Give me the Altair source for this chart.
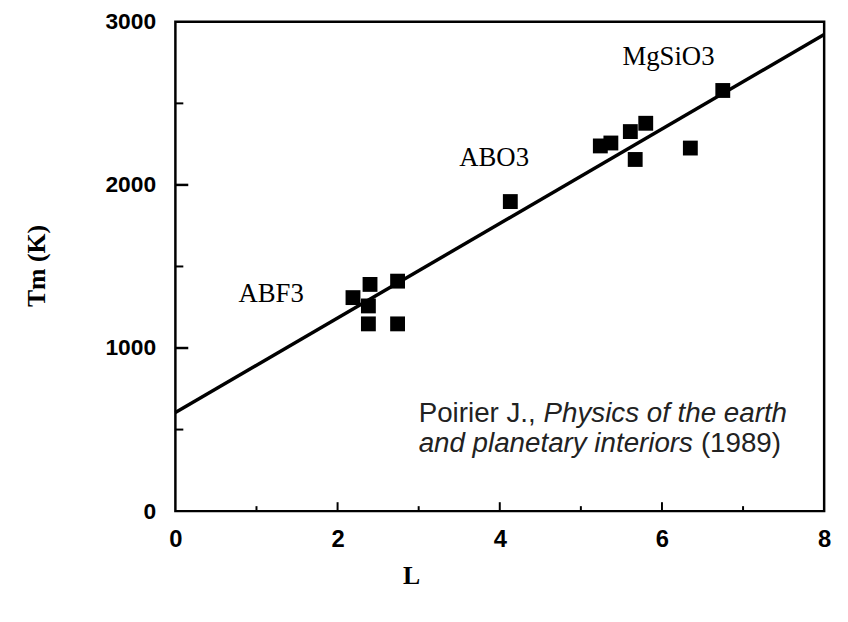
import altair as alt
import pandas as pd

# data points (L, Tm)
L_vals = [2.19, 2.40, 2.38, 2.38, 2.74, 2.74, 4.13, 5.24, 5.37, 5.61, 5.80, 5.67, 6.35, 6.75]
T_vals = [1309, 1390, 1258, 1148, 1410, 1148, 1898, 2239, 2257, 2327, 2378, 2156, 2226, 2579]

# fitted line endpoints
fit_L = [0, 8]
fit_T = [605, 2922]

# group labels
group_names = ["ABF3", "ABO3", "MgSiO3"]
group_L = [1.18, 3.93, 6.08]
group_T = [1331, 2166, 2783]

x_major = [2, 4, 6]
x_minor = [1, 3, 5, 7]
y_major = [1000, 2000]
y_minor = [500, 1500, 2500]

W, H = 655, 494

pts = pd.DataFrame({"L": L_vals, "T": T_vals})
fit = pd.DataFrame({"L": fit_L, "T": fit_T})
grp = pd.DataFrame({"name": group_names, "L": group_L, "T": group_T})

xs = alt.Scale(domain=[0, 8], nice=False, zero=False)
ys = alt.Scale(domain=[0, 3000], nice=False, zero=False)

x_axis = alt.Axis(values=[0, 2, 4, 6, 8], format="d", grid=False, ticks=False, tickSize=0, domain=False,
                  labelFont="Liberation Sans", labelFontWeight="bold", labelFontSize=24,
                  labelColor="black", labelPadding=17, labelFlush=False,
                  title="L", titleFont="Liberation Serif", titleFontWeight="bold",
                  titleFontSize=26, titleColor="black", titleX=238, titleY=65,
                  titleAlign="center", titleBaseline="middle")
y_axis = alt.Axis(values=[0, 1000, 2000, 3000], format="d", grid=False, ticks=False, tickSize=0, domain=False,
                  labelFont="Liberation Sans", labelFontWeight="bold", labelFontSize=23,
                  labelColor="black", labelPadding=20, labelFlush=False,
                  title="Tm (K)", titleFont="Liberation Serif", titleFontWeight="bold",
                  titleFontSize=26, titleColor="black", titleX=-140, titleY=246,
                  titleAlign="center", titleBaseline="middle", titleAngle=-90)

base_x = alt.X("L:Q", scale=xs, axis=x_axis)
base_y = alt.Y("T:Q", scale=ys, axis=y_axis)

line = alt.Chart(fit).mark_line(color="black", strokeWidth=3.5).encode(x=base_x, y=base_y)
squares = alt.Chart(pts).mark_square(size=225, color="black", opacity=1, filled=True).encode(
    x=alt.X("L:Q", scale=xs), y=alt.Y("T:Q", scale=ys))
labels = alt.Chart(grp).mark_text(font="Liberation Serif", fontSize=27, color="black",
                                  align="center", baseline="middle").encode(
    x=alt.X("L:Q", scale=xs), y=alt.Y("T:Q", scale=ys), text="name:N")

# inward ticks
xt_major = alt.Chart(pd.DataFrame({"L": x_major})).mark_rule(color="black", strokeWidth=2).encode(
    x=alt.X("L:Q", scale=xs), y=alt.value(H), y2=alt.value(H - 9))
xt_minor = alt.Chart(pd.DataFrame({"L": x_minor})).mark_rule(color="black", strokeWidth=2).encode(
    x=alt.X("L:Q", scale=xs), y=alt.value(H), y2=alt.value(H - 5))
yt_major = alt.Chart(pd.DataFrame({"T": y_major})).mark_rule(color="black", strokeWidth=2.5).encode(
    y=alt.Y("T:Q", scale=ys), x=alt.value(0), x2=alt.value(13))
yt_minor = alt.Chart(pd.DataFrame({"T": y_minor})).mark_rule(color="black", strokeWidth=2).encode(
    y=alt.Y("T:Q", scale=ys), x=alt.value(0), x2=alt.value(8))

# citation
cite_font = "Liberation Sans"
cite_size = 28
c1 = alt.Chart(pd.DataFrame({"L": [3.0], "T": [545], "t": ["Poirier J.,"]})).mark_text(
    font=cite_font, fontSize=cite_size, color="#222222", align="left", baseline="alphabetic").encode(
    x=alt.X("L:Q", scale=xs), y=alt.Y("T:Q", scale=ys), text="t:N")
c2 = alt.Chart(pd.DataFrame({"L": [4.54], "T": [545], "t": ["Physics of the earth"]})).mark_text(
    font=cite_font, fontSize=cite_size, fontStyle="italic", color="#222222", align="left",
    baseline="alphabetic").encode(x=alt.X("L:Q", scale=xs), y=alt.Y("T:Q", scale=ys), text="t:N")
c3 = alt.Chart(pd.DataFrame({"L": [3.0], "T": [363], "t": ["and planetary interiors"]})).mark_text(
    font=cite_font, fontSize=cite_size, fontStyle="italic", color="#222222", align="left",
    baseline="alphabetic").encode(x=alt.X("L:Q", scale=xs), y=alt.Y("T:Q", scale=ys), text="t:N")
c4 = alt.Chart(pd.DataFrame({"L": [6.48], "T": [363], "t": ["(1989)"]})).mark_text(
    font=cite_font, fontSize=cite_size, color="#222222", align="left", baseline="alphabetic").encode(
    x=alt.X("L:Q", scale=xs), y=alt.Y("T:Q", scale=ys), text="t:N")

chart = alt.layer(line, squares, labels, xt_major, xt_minor, yt_major, yt_minor, c1, c2, c3, c4).properties(
    width=W, height=H,
    autosize=alt.AutoSizeParams(type="none"),
    padding={"left": 169, "top": 11, "right": 16, "bottom": 109},
    background="white",
).configure_view(stroke="black", strokeWidth=2.5)

chart.save("out.html", embed_options={"renderer": "svg", "actions": False})
